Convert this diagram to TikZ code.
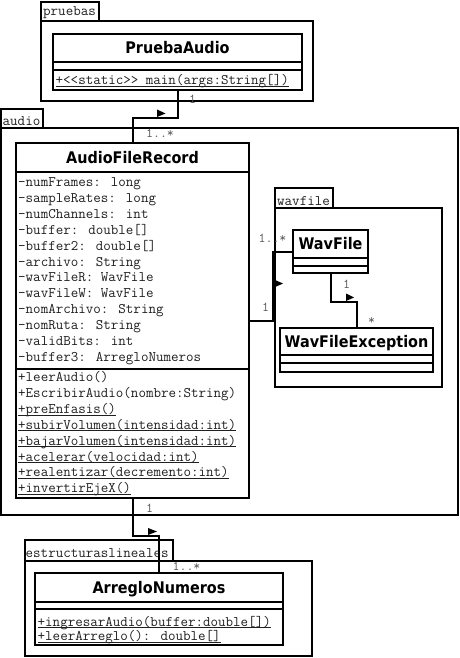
\documentclass[tikz,border=0pt]{standalone}
\usepackage{fontspec}
\newfontfamily\clsfont[FakeStretch=0.9]{DejaVu Sans}
\usetikzlibrary{fit}
\tikzset{
  pkgtab/.style={draw, line width=1.2pt, inner sep=0pt},
  pkgbody/.style={draw, line width=2.2pt, inner sep=0pt},
  clsbox/.style={draw, line width=2pt, inner sep=0pt},
  divline/.style={line width=2pt},
  cname/.style={font={\clsfont\bfseries\fontsize{16}{18}\selectfont}, inner sep=0pt, text height=11.7pt, text depth=0pt},
  mono/.style={font={\ttfamily\fontsize{14.6}{16}\selectfont}, inner sep=0pt, anchor=base west, text=black!88},
  mult/.style={font={\ttfamily\fontsize{13.5}{15}\selectfont}, inner sep=0pt, anchor=base, text=black!65},
  conn/.style={line width=2pt},
  ulin/.style={line width=0.8pt, black!88},
}
\newcommand\UClass[8]{%
  \node[clsbox, fit={(#2,#3) (#4,#5)}] (#1) {};
  \draw[divline] (#2,#6) -- (#4,#6);
  \draw[divline] (#2,#7) -- (#4,#7);
  \node[cname] (#1-name) at ({(#2+#4)/2},{(#3+#6)/2}) {#8};
}
\newcommand\ULop[4]{%
  \node[mono] (#1) at (#2,#3) {#4};
  \draw[ulin] ([yshift=-1.6pt]#1.base west) -- ([yshift=-1.6pt]#1.base east);
}
\begin{document}
\begin{tikzpicture}[x=1pt,y=-1pt]
\useasboundingbox (0,0) rectangle (460,658);

% packages
\node[pkgtab, fit={(41,2) (99,21)}] (pruebasTab) {};
\node[pkgbody, fit={(41,21) (313,101)}] (pruebas) {};
\node[mono] (pruebasLbl) at (43,16) {pruebas};

\node[pkgtab, fit={(1,109) (43,128)}] (audioTab) {};
\node[pkgbody, fit={(1.2,128) (458,515)}] (audio) {};
\node[mono] (audioLbl) at (2.5,125) {audio};

\node[pkgtab, fit={(275,188) (333,208)}] (wavTab) {};
\node[pkgbody, fit={(275,208) (442,387)}] (wavpkg) {};
\node[mono] (wavLbl) at (277,205) {wavfile};

\node[pkgtab, fit={(25,540) (173,561)}] (estTab) {};
\node[pkgbody, fit={(25,561) (312,656)}] (estpkg) {};
\node[mono] (estLbl) at (25.5,557) {estructuraslineales};

% classes
\UClass{pa}{53}{34}{302}{90}{62}{70}{PruebaAudio}
\ULop{paop}{55.5}{84.5}{+<<static>> main(args:String[])}

\UClass{afr}{16}{143}{249}{498}{172}{369}{AudioFileRecord}
\foreach \t [count=\i] in {-numFrames: long, -sampleRates: long, -numChannels: int,
  -buffer: double[], -buffer2: double[], -archivo: String, -wavFileR: WavFile,
  -wavFileW: WavFile, -nomArchivo: String, -nomRuta: String, -validBits: int,
  -buffer3: ArregloNumeros}
  {\node[mono] (afra\i) at (18,{186.5+(\i-1)*15.9}) {\t};}
\node[mono] (afro1) at (18,381.5) {+leerAudio()};
\node[mono] (afro2) at (18,397.4) {+EscribirAudio(nombre:String)};
\ULop{afro3}{18}{413.3}{+preEnfasis()}
\ULop{afro4}{18}{429.2}{+subirVolumen(intensidad:int)}
\ULop{afro5}{18}{445.1}{+bajarVolumen(intensidad:int)}
\ULop{afro6}{18}{461.0}{+acelerar(velocidad:int)}
\ULop{afro7}{18}{476.9}{+realentizar(decremento:int)}
\ULop{afro8}{18}{492.8}{+invertirEjeX()}

\UClass{wf}{293}{230}{368}{273}{258}{266}{WavFile}
\UClass{wfe}{280}{328}{433}{372}{355}{363}{WavFileException}

\UClass{arn}{35}{573}{283}{645}{602}{609}{ArregloNumeros}
\ULop{arno1}{37.5}{626}{+ingresarAudio(buffer:double[])}
\ULop{arno2}{37.5}{640.5}{+leerArreglo(): double[]}

% connectors
\draw[conn] (pa.south) -- ++(0,27) -| (afr.north);
\fill (157,109.5) -- (157,117) -- (165.5,113.5) -- cycle;
\draw[conn] (afr.south) -- ++(0,37) -| (arn.north);
\fill (148,528) -- (148,535) -- (157,531.5) -- cycle;
\draw[conn] (afr.east) -- ++(23,0) |- (wf.west);
\fill (274,279.5) -- (274,287.5) -- (283,283.5) -- cycle;
\draw[conn] (wf.south) -- ++(0,28) -| (wfe.north);
\fill (346,293.5) -- (346,301) -- (354,297.5) -- cycle;

% multiplicities
\node[mult] (m1) at (192.5,103) {1};
\node[mult] (m2) at (160,138) {1..*};
\node[mult] (m3) at (272.5,242) {1..*};
\node[mult] (m4) at (265.5,311) {1};
\node[mult] (m5) at (346.5,288) {1};
\node[mult] (m6) at (371.5,324) {*};
\node[mult] (m7) at (149.5,512) {1};
\node[mult] (m8) at (186.5,570) {1..*};
\end{tikzpicture}
\end{document}
